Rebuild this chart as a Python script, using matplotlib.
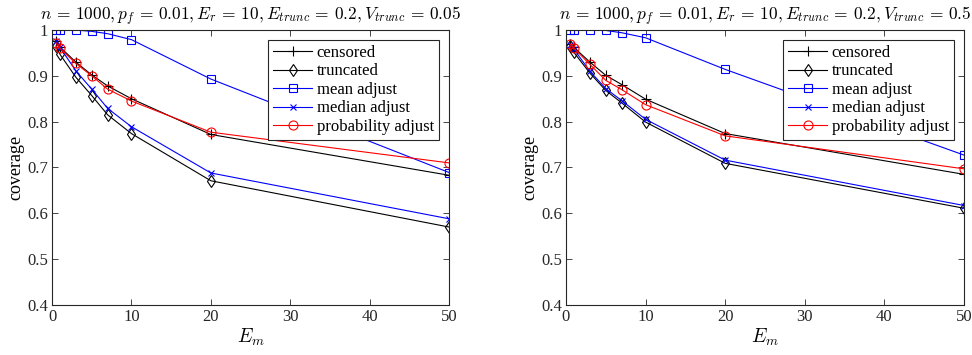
import numpy as np
import matplotlib
matplotlib.use("Agg")
import matplotlib.pyplot as plt
from matplotlib.ticker import FuncFormatter

plt.rcParams['font.family'] = ['Liberation Serif', 'DejaVu Serif']
plt.rcParams['mathtext.fontset'] = 'cm'

# E_m values on the x axis
em = [0.5, 1, 3, 5, 7, 10, 20, 50]

# left panel, V_trunc = 0.05
censored_a = [0.975, 0.963, 0.930, 0.902, 0.878, 0.850, 0.772, 0.683]
truncated_a = [0.965, 0.947, 0.897, 0.857, 0.815, 0.774, 0.671, 0.570]
mean_a = [1.0, 1.0, 1.0, 0.997, 0.992, 0.979, 0.893, 0.689]
median_a = [0.977, 0.962, 0.911, 0.871, 0.829, 0.789, 0.688, 0.588]
prob_a = [0.972, 0.960, 0.927, 0.900, 0.871, 0.845, 0.777, 0.710]

# right panel, V_trunc = 0.5
censored_b = [0.970, 0.962, 0.930, 0.901, 0.881, 0.849, 0.774, 0.685]
truncated_b = [0.965, 0.951, 0.906, 0.868, 0.841, 0.799, 0.709, 0.611]
mean_b = [1.0, 1.0, 1.0, 0.999, 0.994, 0.983, 0.914, 0.727]
median_b = [0.968, 0.958, 0.910, 0.872, 0.846, 0.805, 0.716, 0.617]
prob_b = [0.970, 0.960, 0.925, 0.890, 0.870, 0.837, 0.769, 0.697]

labels = ['censored', 'truncated', 'mean adjust', 'median adjust', 'probability adjust']
titles = [r'$n\,=\,1000, p_f\,=\,0.01, E_r\,=\,10, E_{trunc}\,=\,0.2, V_{trunc}\,=\,0.05$',
          r'$n\,=\,1000, p_f\,=\,0.01, E_r\,=\,10, E_{trunc}\,=\,0.2, V_{trunc}\,=\,0.5$']

styles = [dict(color='k', marker='+', ms=7, mfc='none'),
          dict(color='k', marker='d', ms=6, mfc='none'),
          dict(color='b', marker='s', ms=5.5, mfc='none'),
          dict(color='b', marker='x', ms=5, mfc='none'),
          dict(color='r', marker='o', ms=6.5, mfc='none')]

fig = plt.figure(figsize=(9.72, 3.55), dpi=100)
ax1 = fig.add_axes([0.0535, 0.141, 0.4085, 0.7745])
ax2 = fig.add_axes([0.5823, 0.141, 0.4095, 0.7745])

panels = [(ax1, [censored_a, truncated_a, mean_a, median_a, prob_a], titles[0]),
          (ax2, [censored_b, truncated_b, mean_b, median_b, prob_b], titles[1])]

for ax, series, title in panels:
    for vals, lab, st in zip(series, labels, styles):
        ax.plot(em, vals, lw=0.8, mew=0.8, label=lab, **st)
    ax.set_xlim(0, 50)
    ax.set_ylim(0.4, 1)
    ax.set_xticks([0, 10, 20, 30, 40, 50])
    ax.set_yticks([0.4, 0.5, 0.6, 0.7, 0.8, 0.9, 1.0])
    ax.yaxis.set_major_formatter(FuncFormatter(lambda v, p: '%g' % v))
    ax.tick_params(direction='in', top=True, right=True, labelsize=12,
                   colors='#262626', length=4, width=0.6, pad=3)
    for s in ax.spines.values():
        s.set_color('#262626')
        s.set_linewidth(0.8)
    ax.set_title(title, fontsize=12.5, pad=7)
    ax.set_xlabel(r'$E_m$', fontsize=14, labelpad=1)
    ax.set_ylabel('coverage', fontsize=13, labelpad=2)
    leg = ax.legend(loc='upper right', fontsize=12, fancybox=False, framealpha=1,
                    edgecolor='#262626', borderpad=0.3, labelspacing=0.15,
                    handlelength=2.3, handletextpad=0.3, borderaxespad=0.6)
    leg.get_frame().set_linewidth(0.8)

fig.savefig('out.png', dpi=100)
